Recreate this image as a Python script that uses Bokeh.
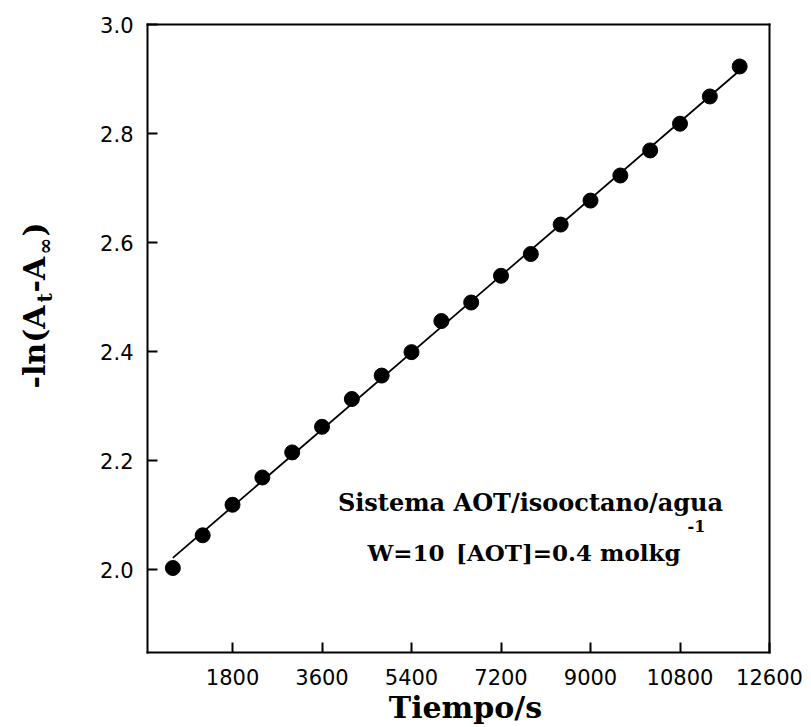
import numpy as np
from bokeh.plotting import figure
from bokeh.models import Label, FixedTicker, Range1d, LinearAxis
from bokeh.embed import file_html
from bokeh.resources import INLINE

# ---- data ----
tiempo = [600, 1200, 1800, 2400, 3000, 3600, 4200, 4800, 5400, 6000,
          6600, 7200, 7800, 8400, 9000, 9600, 10200, 10800, 11400, 12000]
ln_abs = [2.003, 2.063, 2.119, 2.169, 2.215, 2.262, 2.313, 2.356, 2.399, 2.456,
          2.490, 2.539, 2.579, 2.633, 2.677, 2.723, 2.769, 2.818, 2.868, 2.923]
x_ticks = [1800, 3600, 5400, 7200, 9000, 10800, 12600]
x_tick_labels = ["1800", "3600", "5400", "7200", "9000", "10800", "12600"]
y_ticks = [2.0, 2.2, 2.4, 2.6, 2.8, 3.0]
y_tick_labels = ["2.0", "2.2", "2.4", "2.6", "2.8", "3.0"]
box_x = (90, 12600)     # axis box limits (data units)
box_y = (1.848, 3.0)

# ---- layout (pixels) ----
W, H = 811, 727
BOX_L, BOX_R, BOX_T, BOX_B = 147, 769, 24, 652
ux = (box_x[1] - box_x[0]) / (BOX_R - BOX_L)
uy = (box_y[1] - box_y[0]) / (BOX_B - BOX_T)
x_range = Range1d(box_x[0] - BOX_L * ux, box_x[1] + (W - BOX_R) * ux)
y_range = Range1d(box_y[0] - (H - BOX_B) * uy, box_y[1] + BOX_T * uy)

SERIF = "DejaVu Serif"
SANS = "DejaVu Sans"

p = figure(width=W, height=H, output_backend="svg", toolbar_location=None,
           x_range=x_range, y_range=y_range,
           x_axis_location=None, y_axis_location=None,
           min_border=0, min_border_left=0, min_border_right=0,
           min_border_top=0, min_border_bottom=0)
p.outline_line_color = None
p.background_fill_color = "white"
p.border_fill_color = "white"
p.grid.visible = False
p.xgrid.grid_line_color = None
p.ygrid.grid_line_color = None


def style_axis(ax, show_ticks=True):
    ax.axis_line_width = 2
    ax.axis_line_color = "black"
    ax.axis_line_cap = "square"
    ax.minor_tick_line_color = None
    if show_ticks:
        ax.major_tick_in = 10
        ax.major_tick_out = 0
        ax.major_tick_line_width = 2
        ax.major_tick_line_color = "black"
        ax.major_label_text_font = SANS
        ax.major_label_text_font_size = "21px"
        ax.major_label_text_color = "black"
    else:
        ax.major_tick_line_color = None
        ax.major_label_text_font_size = "0px"


xaxis = LinearAxis(fixed_location=box_y[0], bounds=box_x,
                   ticker=FixedTicker(ticks=x_ticks),
                   major_label_overrides=dict(zip(x_ticks, x_tick_labels)),
                   major_label_standoff=16)
style_axis(xaxis)
p.add_layout(xaxis, "below")

yaxis = LinearAxis(fixed_location=box_x[0], bounds=box_y,
                   ticker=FixedTicker(ticks=y_ticks),
                   major_label_overrides=dict(zip(y_ticks, y_tick_labels)),
                   major_label_standoff=14)
style_axis(yaxis)
p.add_layout(yaxis, "left")

top_axis = LinearAxis(fixed_location=box_y[1], bounds=box_x,
                      ticker=FixedTicker(ticks=[]))
style_axis(top_axis, show_ticks=False)
p.add_layout(top_axis, "above")

right_axis = LinearAxis(fixed_location=box_x[1], bounds=box_y,
                        ticker=FixedTicker(ticks=[]))
style_axis(right_axis, show_ticks=False)
p.add_layout(right_axis, "right")

# linear fit through the data
slope, intercept = np.polyfit(tiempo, ln_abs, 1)
fit_x = [tiempo[0], tiempo[-1]]
fit_y = [intercept + slope * v for v in fit_x]
p.line(fit_x, fit_y, line_color="black", line_width=1.8)
p.scatter(tiempo, ln_abs, size=15, fill_color="black", line_color="black")


def lab(text, dx, dy, size, align="left", angle=0.0):
    # dx, dy: pixels from the bottom-left corner of the axis box
    p.add_layout(Label(x=box_x[0], y=box_y[0], x_offset=dx, y_offset=dy,
                       text=text, text_font=SERIF, text_font_style="bold",
                       text_font_size=size, text_color="black",
                       text_align=align, text_baseline="alphabetic",
                       angle=angle))


# x axis title
lab("Tiempo/s", 318, -55, "30px", align="center")

# annotation text
lab("Sistema AOT/isooctano/agua", 383, 150, "24px", align="center")
lab("W=10", 220, 100, "23px")
lab("[AOT]=0.4 molkg", 533, 100, "23px", align="right")
lab("-1", 540, 127, "16px")

# y axis title (rotated, with subscripts)
r = np.pi / 2
lab("-ln(A", -113, 264, "30px", angle=r)
lab("t", -103, 350, "20px", angle=r)
lab("-A", -113, 360, "30px", angle=r)
lab("\u221e", -103, 398, "20px", angle=r)
lab(")", -113, 416, "30px", angle=r)

open("out.html", "w").write(file_html(p, INLINE))
